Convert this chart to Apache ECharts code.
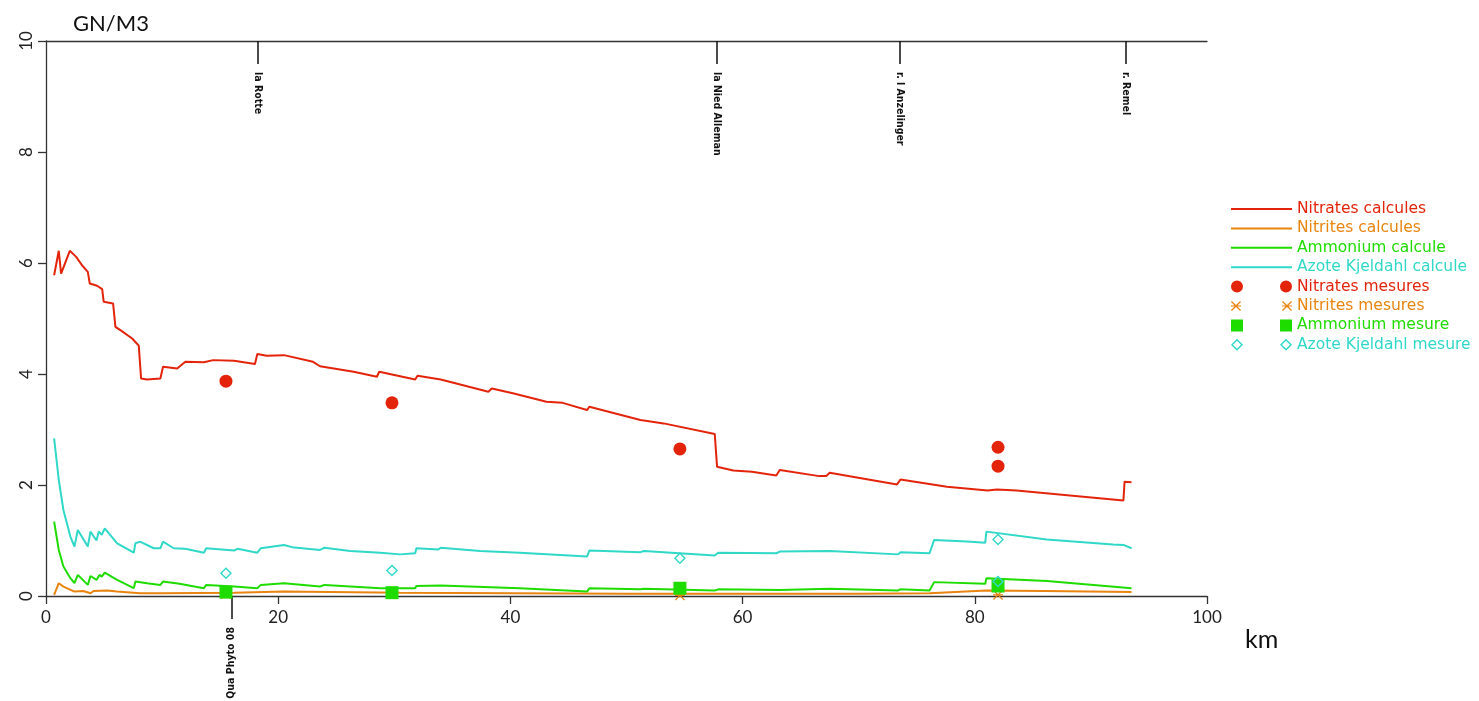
<!DOCTYPE html>
<html><head><meta charset="utf-8">
<script src="https://cdn.jsdelivr.net/npm/echarts@6/dist/echarts.min.js"></script>
<style>html,body{margin:0;padding:0;background:#fff}#c{width:1479px;height:701px}</style>
</head><body><div id="c"></div>
<script>
// ---- data (km, g N/m3) ----
const nitratesCalc = [[0.7,5.78],[1.1,6.22],[1.3,5.81],[2.05,6.22],[2.6,6.11],[3.1,5.96],[3.6,5.84],[3.77,5.63],[4.4,5.59],[4.84,5.53],[4.97,5.30],[5.78,5.27],[5.98,4.85],[6.41,4.79],[7.42,4.64],[7.99,4.51],[8.19,3.92],[8.7,3.90],[9.85,3.92],[10.08,4.13],[11.3,4.10],[12.0,4.22],[13.6,4.21],[14.4,4.25],[16.2,4.24],[18.0,4.18],[18.2,4.36],[19.0,4.33],[20.5,4.34],[23.0,4.22],[23.6,4.14],[26.5,4.04],[28.5,3.95],[28.7,4.04],[30.5,3.96],[31.8,3.90],[32.0,3.97],[34.0,3.90],[38.1,3.68],[38.4,3.74],[40.3,3.65],[43.1,3.50],[44.5,3.48],[46.6,3.35],[46.8,3.41],[51.2,3.17],[53.2,3.11],[57.6,2.92],[57.8,2.33],[59.2,2.26],[60.8,2.24],[62.9,2.17],[63.2,2.27],[66.6,2.16],[67.2,2.16],[67.5,2.22],[73.3,2.01],[73.6,2.10],[77.6,1.97],[81.1,1.90],[81.9,1.92],[83.6,1.90],[92.8,1.72],[92.9,2.06],[93.5,2.05]];
const nitritesCalc = [[0.7,0.02],[1.1,0.23],[1.5,0.17],[2.45,0.08],[3.2,0.09],[3.83,0.05],[4.1,0.09],[5.3,0.10],[6.1,0.08],[8.1,0.05],[8.2,0.03],[10.0,0.05],[16.2,0.06],[20.5,0.08],[30.5,0.06],[40.0,0.05],[50.0,0.04],[60.0,0.04],[70.0,0.04],[76.1,0.05],[81.0,0.10],[86.0,0.09],[93.5,0.07]];
const ammoniumCalc = [[0.7,1.34],[1.1,0.83],[1.5,0.53],[2.1,0.32],[2.45,0.23],[2.74,0.38],[3.6,0.20],[3.83,0.36],[4.35,0.29],[4.6,0.38],[4.8,0.35],[5.06,0.42],[6.13,0.29],[7.56,0.14],[7.7,0.26],[8.7,0.23],[9.85,0.20],[10.08,0.26],[11.5,0.22],[13.6,0.14],[13.8,0.20],[16.2,0.17],[18.2,0.14],[18.5,0.20],[20.5,0.23],[23.6,0.17],[24.0,0.20],[28.8,0.14],[30.5,0.14],[31.8,0.14],[31.9,0.18],[34.0,0.19],[40.8,0.14],[46.6,0.08],[46.8,0.14],[51.2,0.12],[51.5,0.13],[57.6,0.10],[57.9,0.12],[63.2,0.11],[67.5,0.13],[73.4,0.10],[73.6,0.12],[76.1,0.10],[76.5,0.25],[80.9,0.22],[81.0,0.32],[86.2,0.27],[93.5,0.14]];
const kjeldahlCalc = [[0.7,2.84],[1.1,2.09],[1.5,1.55],[2.1,1.07],[2.45,0.89],[2.74,1.19],[3.6,0.89],[3.83,1.16],[4.35,1.00],[4.55,1.16],[4.8,1.10],[5.06,1.22],[6.13,0.95],[7.56,0.78],[7.7,0.95],[8.1,0.98],[9.28,0.86],[9.85,0.86],[10.08,0.98],[11.0,0.86],[12.0,0.85],[13.6,0.78],[13.8,0.86],[16.2,0.82],[16.5,0.85],[18.2,0.78],[18.5,0.86],[20.5,0.92],[21.2,0.88],[23.6,0.83],[24.0,0.87],[26.2,0.81],[28.8,0.78],[30.5,0.75],[31.8,0.77],[31.9,0.86],[33.8,0.84],[34.0,0.87],[37.4,0.81],[40.8,0.78],[46.6,0.71],[46.8,0.82],[51.2,0.79],[51.5,0.81],[57.6,0.73],[57.9,0.78],[62.9,0.77],[63.2,0.80],[67.5,0.81],[73.4,0.75],[73.6,0.79],[76.1,0.77],[76.5,1.01],[79.3,0.98],[80.9,0.96],[81.0,1.16],[86.2,1.02],[91.9,0.93],[92.8,0.92],[93.5,0.86]];

const nitratesMes = [[15.5,3.87],[29.8,3.48],[54.6,2.65],[82.0,2.68],[82.0,2.34]];
const nitritesMes = [[15.5,0.03],[29.8,0.03],[54.6,0.01],[82.0,0.02]];
const ammoniumMes = [[15.5,0.07],[29.8,0.06],[54.6,0.14],[82.0,0.18]];
const kjeldahlMes = [[15.5,0.41],[29.8,0.46],[54.6,0.68],[82.0,1.02],[82.0,0.26]];

const topNames = ['la Rotte','la Nied Alleman','r. l Anzelinger','r. Remel'];
const topKm = [18.2, 57.8, 73.5, 93.0];
const botNames = ['Qua Phyto 08'];
const botKm = [16.0];

const seriesNames = ['Nitrates calcules','Nitrites calcules','Ammonium calcule','Azote Kjeldahl calcule','Nitrates mesures','Nitrites mesures','Ammonium mesure','Azote Kjeldahl mesure'];
const colors = ['#e3240b','#e8840f','#1fdc00','#30d8c8'];

// ---- symbols ----
const xSym = 'path://M0,0.9L0.9,0L5,4.1L9.1,0L10,0.9L5.9,5L10,9.1L9.1,10L5,5.9L0.9,10L0,9.1L4.1,5Z M0,4.4H10V5.6H0Z';
const diaSym = 'path://M6,0L12,6L6,12L0,6Z M6,2L2,6L6,10L10,6Z';
const lgLine = 'path://M0,0H61V2H0Z';
const lgCircle = 'path://M0,6A6,6,0,1,1,12,6A6,6,0,1,1,0,6Z M49,6A6,6,0,1,1,61,6A6,6,0,1,1,49,6Z';
const lgX = 'path://M0,1.9L0.9,1L5,5.1L9.1,1L10,1.9L5.9,6L10,10.1L9.1,11L5,6.9L0.9,11L0,10.1L4.1,6Z M0,5.4H10V6.6H0Z M51,1.9L51.9,1L56,5.1L60.1,1L61,1.9L56.9,6L61,10.1L60.1,11L56,6.9L51.9,11L51,10.1L55.1,6Z M51,5.4H61V6.6H51Z';
const lgSquare = 'path://M0,0H12V12H0Z M49,0H61V12H49Z';
const lgDia = 'path://M6,0L12,6L6,12L0,6Z M6,2L2,6L6,10L10,6Z M55,0L61,6L55,12L49,6Z M55,2L51,6L55,10L59,6Z';

const FONT = 'Lato';
const ANNOT_FONT = "'DejaVu Sans Condensed', 'Liberation Sans', sans-serif";
const axisCol = '#333';

const chart = echarts.init(document.getElementById('c'));
const lineSeries = (name, data, col) => ({
  name, type:'line', data, symbol:'none', xAxisIndex:0, yAxisIndex:0,
  itemStyle:{color:col}, lineStyle:{color:col, width:2}, z:2, silent:true
});
const scatSeries = (name, data, col, symbol, size) => ({
  name, type:'scatter', data, symbol, symbolSize:size, xAxisIndex:0, yAxisIndex:0,
  itemStyle:{color:col, opacity:1}, z:3, silent:true
});

chart.setOption({
  animation:false,
  backgroundColor:'#fff',
  title:[
    {text:'GN/M3', left:68, top:8, textStyle:{fontFamily:FONT, fontSize:22, fontWeight:'normal', color:'#111'}},
    {text:'km', left:1240, top:622, textStyle:{fontFamily:FONT, fontSize:25, fontWeight:'normal', color:'#111'}}
  ],
  grid:{left:46, top:41, width:1161, height:555, containLabel:false, outerBoundsMode:'none'},
  legend:{
    orient:'vertical', left:1226, top:196, itemWidth:61, itemHeight:12, itemGap:3.4,
    selectedMode:false,
    textStyle:{fontFamily:'DejaVu Sans', fontSize:15.5, lineHeight:15},
    data:[
      {name:seriesNames[0], icon:lgLine, textStyle:{color:colors[0]}},
      {name:seriesNames[1], icon:lgLine, textStyle:{color:colors[1]}},
      {name:seriesNames[2], icon:lgLine, textStyle:{color:colors[2]}},
      {name:seriesNames[3], icon:lgLine, textStyle:{color:colors[3]}},
      {name:seriesNames[4], icon:lgCircle, textStyle:{color:colors[0]}},
      {name:seriesNames[5], icon:lgX, textStyle:{color:colors[1]}},
      {name:seriesNames[6], icon:lgSquare, textStyle:{color:colors[2]}},
      {name:seriesNames[7], icon:lgDia, textStyle:{color:colors[3]}}
    ]
  },
  xAxis:[
    {type:'value', position:'bottom', min:0, max:100, interval:20,
      axisLine:{show:true, onZero:false, lineStyle:{color:axisCol, width:1.3}},
      axisTick:{show:true, inside:false, length:8, lineStyle:{color:axisCol, width:1.3}},
      axisLabel:{fontFamily:FONT, fontSize:17, color:'#222', margin:13},
      splitLine:{show:false}},
    {type:'value', position:'top', min:0, max:100,
      axisLine:{show:true, onZero:false, lineStyle:{color:axisCol, width:1.3}},
      axisTick:{show:true, inside:true, length:23, customValues:topKm, lineStyle:{color:'#111', width:1.5}},
      axisLabel:{show:true, inside:true, rotate:90, margin:31, customValues:topKm,
        fontFamily:ANNOT_FONT, fontWeight:'bold', fontSize:10.5, color:'#111',
        formatter:(v)=>{const i=topKm.indexOf(v); return i>=0?topNames[i]:'';}},
      splitLine:{show:false}},
    {type:'value', position:'bottom', min:0, max:100,
      axisLine:{show:false, onZero:false},
      axisTick:{show:true, inside:false, length:23, customValues:botKm, lineStyle:{color:'#111', width:1.5}},
      axisLabel:{show:true, rotate:90, margin:31, customValues:botKm,
        fontFamily:ANNOT_FONT, fontWeight:'bold', fontSize:10.5, color:'#111',
        formatter:(v)=>{const i=botKm.indexOf(v); return i>=0?botNames[i]:'';}},
      splitLine:{show:false}}
  ],
  yAxis:[{type:'value', min:0, max:10, interval:2,
    axisLine:{show:true, onZero:false, lineStyle:{color:axisCol, width:1.3}},
    axisTick:{show:true, inside:false, length:8, lineStyle:{color:axisCol, width:1.3}},
    axisLabel:{fontFamily:FONT, fontSize:17, color:'#222', margin:11, rotate:90},
    splitLine:{show:false}}],
  series:[
    lineSeries(seriesNames[0], nitratesCalc, colors[0]),
    lineSeries(seriesNames[1], nitritesCalc, colors[1]),
    lineSeries(seriesNames[2], ammoniumCalc, colors[2]),
    lineSeries(seriesNames[3], kjeldahlCalc, colors[3]),
    scatSeries(seriesNames[4], nitratesMes, colors[0], 'circle', 13),
    scatSeries(seriesNames[5], nitritesMes, colors[1], xSym, 10),
    scatSeries(seriesNames[6], ammoniumMes, colors[2], 'rect', 13),
    scatSeries(seriesNames[7], kjeldahlMes, colors[3], diaSym, 12)
  ]
});
</script></body></html>
